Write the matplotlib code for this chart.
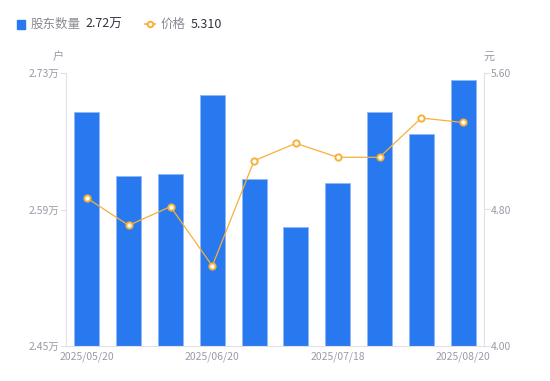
import matplotlib
matplotlib.use("Agg")
import matplotlib.pyplot as plt
from matplotlib.lines import Line2D

plt.rcParams['font.family'] = ['Noto Sans CJK SC', 'DejaVu Sans']

dates = ["2025/05/20", "", "", "2025/06/20", "", "", "2025/07/18", "", "", "2025/08/20"]
holders = [2.6897, 2.6241, 2.6261, 2.7074, 2.6213, 2.5721, 2.6172, 2.6897, 2.6677, 2.7231]
price = [4.867, 4.707, 4.817, 4.469, 5.086, 5.188, 5.106, 5.106, 5.336, 5.310]
left_ticks = [2.45, 2.59, 2.73]
right_ticks = [4.00, 4.80, 5.60]

BLUE = "#2878f0"
ORANGE = "#f7b038"
GRAY = "#9a9aa8"
AXC = "#e0e0e6"

fig = plt.figure(figsize=(5.5, 3.81), dpi=100)
ax = fig.add_axes([66/550, 1-346/381, 418/550, 273/381])
x = list(range(len(holders)))
ax.bar(x, holders, width=0.6, color=BLUE, edgecolor="#8fb8f7", linewidth=0.6, zorder=2)
ax.set_xlim(-0.5, len(holders)-0.5)
ax.set_ylim(left_ticks[0], left_ticks[-1])
ax.set_yticks(left_ticks)
ax.set_yticklabels([f"{v:.2f}万" for v in left_ticks])
ax.set_xticks(x)
ax.set_xticklabels(dates)
ax.tick_params(axis='x', length=0, labelsize=7.5, colors=GRAY, pad=4)
ax.tick_params(axis='y', length=4, width=0.8, color=AXC, labelsize=7.5, labelcolor=GRAY, pad=1)
for s in ["top", "right"]:
    ax.spines[s].set_visible(False)
for s in ["left", "bottom"]:
    ax.spines[s].set_color(AXC)
    ax.spines[s].set_linewidth(0.8)

ax2 = ax.twinx()
ax2.plot(x, price, color=ORANGE, linewidth=0.9, marker="o", markersize=4.5,
         markerfacecolor="white", markeredgecolor=ORANGE, markeredgewidth=1.4, zorder=3)
ax2.set_ylim(right_ticks[0], right_ticks[-1])
ax2.set_yticks(right_ticks)
ax2.set_yticklabels([f"{v:.2f}" for v in right_ticks])
ax2.tick_params(axis='y', length=4, width=0.8, color=AXC, labelsize=7.5, labelcolor=GRAY, pad=1)
for s in ["top", "left", "bottom"]:
    ax2.spines[s].set_visible(False)
ax2.spines["right"].set_color(AXC)
ax2.spines["right"].set_linewidth(0.8)

fig.text(58/550, 1-57/381, "户", fontsize=8, color=GRAY, ha="center", va="center")
fig.text(489/550, 1-57/381, "元", fontsize=8, color=GRAY, ha="center", va="center")

# legend
fig.patches.append(plt.Rectangle((17/550, 1-29/381), 8/550, 9/381, transform=fig.transFigure,
                                 color=BLUE, figure=fig))
fig.text(31/550, 1-24/381, "股东数量", fontsize=9, color="#8a8a96", va="center", ha="left")
fig.text(85/550, 1-24/381, f"{holders[-1]:.2f}万", fontsize=9, color="#333340", va="center", ha="left")
fig.add_artist(Line2D([145/550, 155/550], [1-24/381, 1-24/381], transform=fig.transFigure,
                      color=ORANGE, linewidth=1.2))
fig.add_artist(Line2D([150/550], [1-24/381], transform=fig.transFigure, marker="o", markersize=4,
                      markerfacecolor="white", markeredgecolor=ORANGE, markeredgewidth=1.4))
fig.text(161/550, 1-24/381, "价格", fontsize=9, color="#8a8a96", va="center", ha="left")
fig.text(191/550, 1-24/381, f"{price[-1]:.3f}", fontsize=9, color="#333340", va="center", ha="left")

fig.savefig("out.png", dpi=100)
